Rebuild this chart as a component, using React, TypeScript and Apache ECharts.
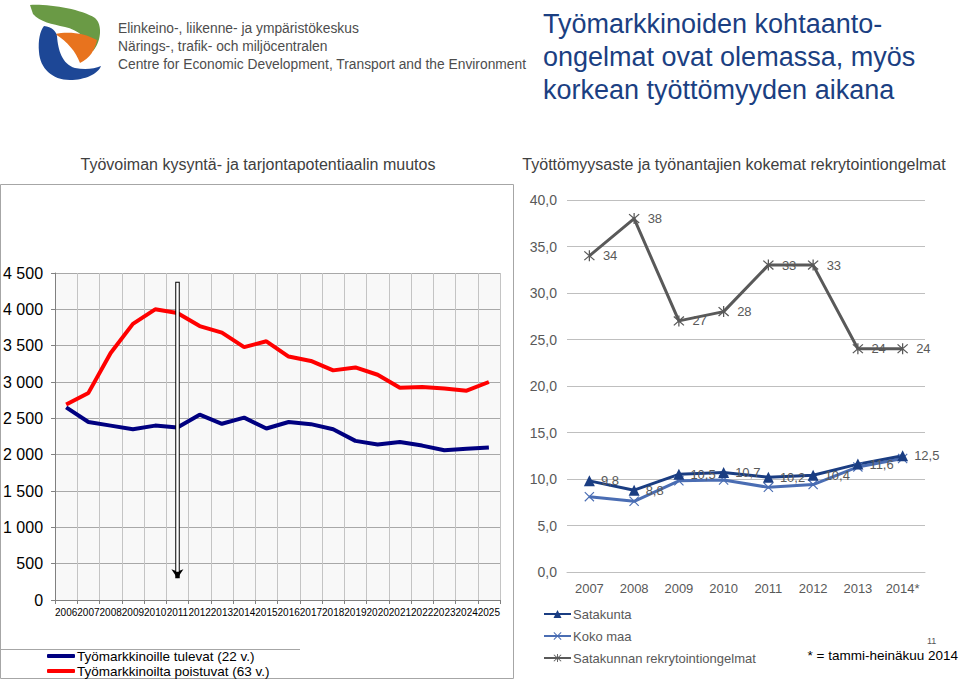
import React, { useEffect, useRef } from "react";
import * as echarts from "echarts";

// ---- Data ----
const leftYears = ["2006","2007","2008","2009","2010","2011","2012","2013","2014","2015","2016","2017","2018","2019","2020","2021","2022","2023","2024","2025"];
const entrants = [2650, 2450, 2400, 2350, 2400, 2375, 2550, 2425, 2510, 2360, 2450, 2420, 2350, 2190, 2140, 2175, 2125, 2060, 2080, 2100];
const leavers = [2690, 2850, 3400, 3800, 4000, 3950, 3770, 3680, 3480, 3560, 3350, 3290, 3160, 3200, 3100, 2920, 2930, 2910, 2880, 3000];
const entrantsName = "Työmarkkinoille tulevat (22 v.)";
const leaversName = "Työmarkkinoilta poistuvat (63 v.)";
const arrowYear = "2011";
const arrowFrom = 4380;
const arrowTo = 300;

const rightYears = ["2007", "2008", "2009", "2010", "2011", "2012", "2013", "2014*"];
const satakunta = [9.8, 8.8, 10.5, 10.7, 10.2, 10.4, 11.6, 12.5];
const kokoMaa = [8.1, 7.6, 9.8, 9.9, 9.1, 9.4, 11.3, 12.2];
const rekry = [34, 38, 27, 28, 33, 33, 24, 24];
const satakuntaName = "Satakunta";
const kokoMaaName = "Koko maa";
const rekryName = "Satakunnan rekrytointiongelmat";

const FONT = "'Liberation Sans', Arial, sans-serif";

const ASTERISK =
  "path://M9,0L11,0L11,20L9,20Z M1.3,2.7L2.7,1.3L18.7,17.3L17.3,18.7Z M17.3,1.3L18.7,2.7L2.7,18.7L1.3,17.3Z";
const CROSS =
  "path://M1.3,2.7L2.7,1.3L18.7,17.3L17.3,18.7Z M17.3,1.3L18.7,2.7L2.7,18.7L1.3,17.3Z";

let registered = false;
function registerLogo() {
  if (registered) return;
  registered = true;
  echarts.graphic.registerShape(
    "logoGreen",
    echarts.graphic.extendPath(
      "M30,5 C50,4 80,9 95,18 C103,25 101,42 93,51 C88,38 78,30 65,27 C52,24 40,22 33,14 Z",
      {}
    )
  );
  echarts.graphic.registerShape(
    "logoOrange",
    echarts.graphic.extendPath(
      "M55,34 C68,31 85,33 97,40 C95,50 90,58 80,63 C76,52 68,42 55,34 Z",
      {}
    )
  );
  echarts.graphic.registerShape(
    "logoBlue",
    echarts.graphic.extendPath(
      "M44,26 C52,27 56,31 57,36 C58,50 62,64 75,68 C85,70 94,69 101,66 C98,74 85,80 70,80 C52,80 40,68 39,52 C38,40 40,31 44,26 Z",
      {}
    )
  );
}

function fmtThousands(v: number) {
  if (v >= 1000) {
    const t = Math.floor(v / 1000);
    const r = String(v % 1000).padStart(3, "0");
    return t + " " + r;
  }
  return String(v);
}

export default function App() {
  const ref = useRef<HTMLDivElement>(null);

  useEffect(() => {
    if (!ref.current) return;
    registerLogo();
    const chart = echarts.init(ref.current, undefined, { renderer: "svg" });

    const option: any = {
      animation: false,
      backgroundColor: "#ffffff",
      textStyle: { fontFamily: FONT },
      title: [
        {
          text: "Työmarkkinoiden kohtaanto-\nongelmat ovat olemassa, myös\nkorkean työttömyyden aikana",
          left: 538,
          top: 2,
          textStyle: { fontSize: 27, fontWeight: "normal", color: "#1b3f82", lineHeight: 33, fontFamily: FONT },
        },
        {
          text: "Työvoiman kysyntä- ja tarjontapotentiaalin muutos",
          left: 253,
          textAlign: "center",
          top: 151,
          textStyle: { fontSize: 16, fontWeight: "normal", color: "#404040", fontFamily: FONT },
        },
        {
          text: "Työttömyysaste ja työnantajien kokemat rekrytointiongelmat",
          left: 729,
          textAlign: "center",
          top: 151,
          textStyle: { fontSize: 16, fontWeight: "normal", color: "#404040", fontFamily: FONT },
        },
      ],
      legend: [
        {
          data: [entrantsName, leaversName],
          orient: "vertical",
          left: 47,
          top: 649,
          icon: "roundRect",
          itemWidth: 28,
          itemHeight: 4,
          itemGap: 1,
          textStyle: { fontSize: 13.5, color: "#000", lineHeight: 13, padding: [0, 0, 0, -3] },
          padding: 0,
        },
        {
          data: [satakuntaName, kokoMaaName, rekryName],
          orient: "vertical",
          left: 543,
          top: 607,
          itemWidth: 27,
          itemHeight: 10,
          itemGap: 8,
          textStyle: { fontSize: 13, color: "#595959", lineHeight: 14, padding: [0, 0, 0, -3] },
          padding: 0,
        },
      ],
      grid: [
        {
          left: 55,
          right: 460,
          top: 273,
          bottom: 80,
          show: true,
          backgroundColor: "#f8f8f8",
          borderWidth: 0,
        },
        {
          left: 567,
          right: 35,
          top: 200,
          bottom: 108,
        },
      ],
      xAxis: [
        {
          type: "category",
          gridIndex: 0,
          data: leftYears,
          boundaryGap: true,
          axisLine: { lineStyle: { color: "#808080", width: 1 } },
          axisTick: { show: true, length: 4, lineStyle: { color: "#808080" } },
          axisLabel: { interval: 0, fontSize: 10, color: "#000", margin: 7, fontFamily: FONT },
          splitLine: { show: true, lineStyle: { color: "#c4c4c4", width: 1 } },
        },
        {
          type: "category",
          gridIndex: 1,
          data: rightYears,
          boundaryGap: true,
          axisLine: { lineStyle: { color: "#bfbfbf", width: 1 } },
          axisTick: { show: false },
          axisLabel: { interval: 0, fontSize: 13, color: "#595959", margin: 10, fontFamily: FONT },
          splitLine: { show: false },
        },
      ],
      yAxis: [
        {
          type: "value",
          gridIndex: 0,
          min: 0,
          max: 4500,
          interval: 500,
          axisLine: { show: true, lineStyle: { color: "#808080" } },
          axisTick: { show: true, length: 4, lineStyle: { color: "#808080" } },
          axisLabel: { fontSize: 16, color: "#000", margin: 12, formatter: fmtThousands, fontFamily: FONT },
          splitLine: { show: true, lineStyle: { color: "#a8a8a8", width: 1 } },
        },
        {
          type: "value",
          gridIndex: 1,
          min: 0,
          max: 40,
          interval: 5,
          axisLine: { show: false },
          axisTick: { show: false },
          axisLabel: {
            fontSize: 14,
            color: "#595959",
            margin: 10,
            fontFamily: FONT,
            formatter: (v: number) => v.toFixed(1).replace(".", ","),
          },
          splitLine: { show: true, lineStyle: { color: "#bfbfbf", width: 1 } },
        },
      ],
      series: [
        {
          name: entrantsName,
          type: "line",
          xAxisIndex: 0,
          yAxisIndex: 0,
          data: entrants,
          symbol: "none",
          lineStyle: { color: "#000080", width: 4 },
          itemStyle: { color: "#000080" },
        },
        {
          name: leaversName,
          type: "line",
          xAxisIndex: 0,
          yAxisIndex: 0,
          data: leavers,
          symbol: "none",
          lineStyle: { color: "#ff0000", width: 4 },
          itemStyle: { color: "#ff0000" },
        },
        {
          name: "arrowOutline",
          type: "line",
          xAxisIndex: 0,
          yAxisIndex: 0,
          data: [],
          markLine: {
            silent: true,
            symbol: ["none", "arrow"],
            symbolSize: 9,
            label: { show: false },
            lineStyle: { color: "#000", width: 4.5, type: "solid" },
            data: [[{ coord: [arrowYear, arrowFrom] }, { coord: [arrowYear, arrowTo] }]],
          },
        },
        {
          name: "arrowFill",
          type: "line",
          xAxisIndex: 0,
          yAxisIndex: 0,
          data: [],
          markLine: {
            silent: true,
            symbol: ["none", "none"],
            label: { show: false },
            lineStyle: { color: "#fff", width: 2.5, type: "solid" },
            data: [[{ coord: [arrowYear, arrowFrom - 15] }, { coord: [arrowYear, arrowTo + 90] }]],
          },
        },
        {
          name: kokoMaaName,
          type: "line",
          xAxisIndex: 1,
          yAxisIndex: 1,
          data: kokoMaa,
          symbol: CROSS,
          symbolSize: 10,
          lineStyle: { color: "#4a6db3", width: 3 },
          itemStyle: { color: "#4a6db3" },
        },
        {
          name: satakuntaName,
          type: "line",
          xAxisIndex: 1,
          yAxisIndex: 1,
          data: satakunta,
          symbol: "triangle",
          symbolSize: 11,
          lineStyle: { color: "#1a3d82", width: 3 },
          itemStyle: { color: "#1a3d82" },
          label: {
            show: true,
            position: "right",
            distance: 6,
            fontSize: 13,
            color: "#595959",
            fontFamily: FONT,
            formatter: (p: any) => Number(p.value).toFixed(1).replace(".", ","),
          },
        },
        {
          name: rekryName,
          type: "line",
          xAxisIndex: 1,
          yAxisIndex: 1,
          data: rekry,
          symbol: ASTERISK,
          symbolSize: 11,
          lineStyle: { color: "#595959", width: 3 },
          itemStyle: { color: "#595959" },
          label: {
            show: true,
            position: "right",
            distance: 8,
            fontSize: 13,
            color: "#595959",
            fontFamily: FONT,
          },
        },
      ],
      graphic: [
        {
          type: "rect",
          shape: { x: 0.5, y: 184.5, width: 513, height: 494 },
          style: { fill: "none", stroke: "#a6a6a6", lineWidth: 1 },
          silent: true,
          z: -1,
        },
        {
          type: "line",
          shape: { x1: 0, y1: 649.5, x2: 300, y2: 649.5 },
          style: { stroke: "#a6a6a6", lineWidth: 1 },
          silent: true,
        },
        { type: "logoGreen", x: 0, y: 0, style: { fill: "#6a9a45" }, silent: true },
        { type: "logoOrange", x: 0, y: 0, style: { fill: "#e8731e" }, silent: true },
        { type: "logoBlue", x: 0, y: 0, style: { fill: "#1d4796" }, silent: true },
        {
          type: "text",
          x: 118,
          y: 19,
          style: {
            text: "Elinkeino-, liikenne- ja ympäristökeskus\nNärings-, trafik- och miljöcentralen\nCentre for Economic Development, Transport and the Environment",
            fill: "#4d4d4d",
            font: "13.8px " + FONT,
            lineHeight: 18,
          },
          silent: true,
        },
        {
          type: "text",
          x: 958,
          y: 648,
          style: {
            text: "* = tammi-heinäkuu 2014",
            fill: "#000",
            font: "13.5px " + FONT,
            align: "right",
          },
          silent: true,
        },
        {
          type: "text",
          x: 927,
          y: 636,
          style: { text: "11", fill: "#555", font: "9px " + FONT },
          silent: true,
        },
      ],
    };

    chart.setOption(option);
    return () => chart.dispose();
  }, []);

  return (
    <div
      ref={ref}
      style={{ position: "fixed", left: 0, top: 0, width: 960, height: 680, background: "#fff" }}
    />
  );
}
